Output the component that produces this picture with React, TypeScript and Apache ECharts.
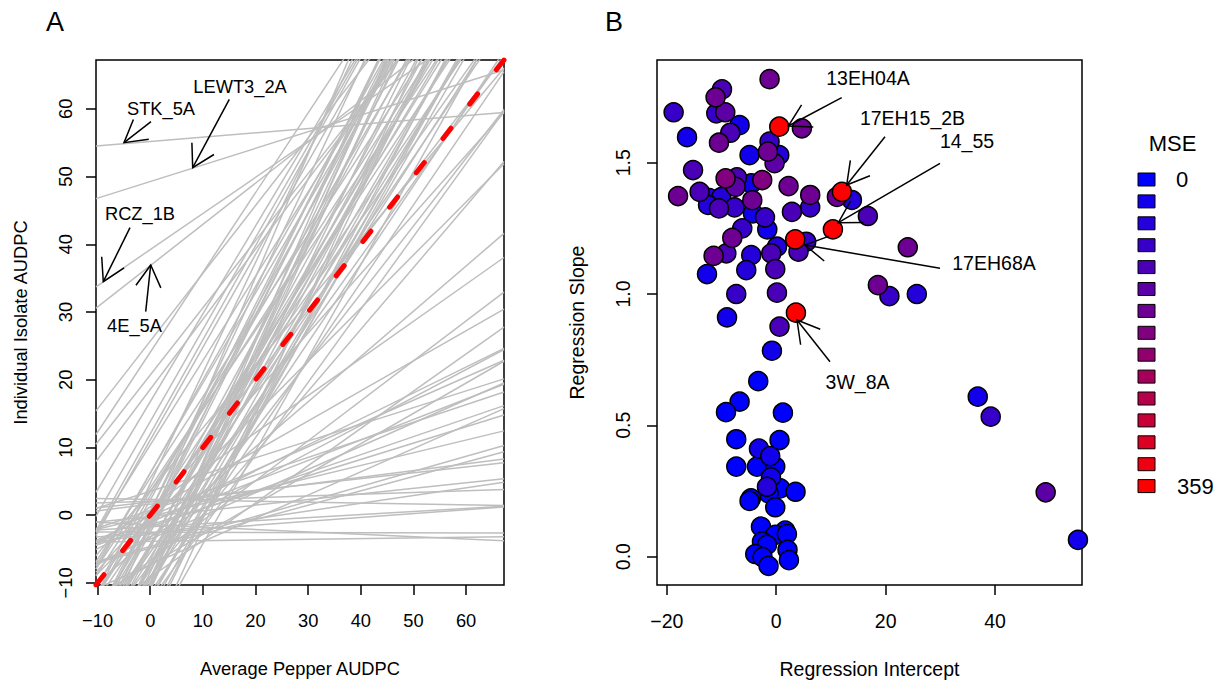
import React, { useEffect, useRef } from "react";
import * as echarts from "echarts";

// ---------- data ----------
// regression intercept (x of panel B) and slope (y of panel B) for each isolate
const intercepts = [
  -1.22, -9.92, -11.09, -18.76, -10.96, -9.32, -6.7, -16.31, -8.4, -10.47,
  0.55, 4.69, -1.22, -4.88, -1.52, 0.55, -0.31, -15.21, -9.26, -7.18,
  -7.43, -4.57, -2.56, -17.95, -14.01, -12.24, -10.05, -12.47, -10.47, -7.62,
  -4.38, -4.26, -2.06, -1.64, -6.21, -8.04, -11.45, -9.13, -4.57, -0.91,
  0.13, -12.66, -5.48, -0.18, -7.31, 0.13, -9.0, 0.6, 2.25, 6.21,
  6.21, 2.87, 12.0, 11.09, 13.83, 16.75, 10.36, 3.47, 4.07, 5.48,
  24.05, 18.58, 20.69, 25.7, 3.6, 36.84, 39.21, 49.26, 55.16, -0.79,
  -3.29, -6.7, -9.19, 1.22, -7.31, 0.6, -3.16, -1.1, -7.31, -3.53,
  -0.18, -0.97, -1.7, 0.73, 3.53, -1.41, -4.62, -0.18, -2.79, 1.64,
  -0.18, 1.95, -2.61, -1.7, -3.84, 2.06, -2.5, 2.32, -1.41, -4.88,
];
const slopes = [
  1.818, 1.779, 1.749, 1.692, 1.688, 1.692, 1.643, 1.597, 1.614, 1.576,
  1.637, 1.631, 1.58, 1.529, 1.542, 1.529, 1.498, 1.472, 1.44, 1.444,
  1.408, 1.421, 1.434, 1.373, 1.389, 1.365, 1.369, 1.339, 1.326, 1.33,
  1.357, 1.307, 1.292, 1.246, 1.25, 1.214, 1.145, 1.155, 1.148, 1.155,
  1.18, 1.076, 1.091, 1.095, 1.0, 1.005, 0.911, 0.876, 1.411, 1.377,
  1.33, 1.313, 1.389, 1.37, 1.358, 1.297, 1.246, 1.208, 1.161, 1.199,
  1.178, 1.034, 0.992, 1.0, 0.929, 0.609, 0.533, 0.245, 0.064, 0.784,
  0.668, 0.59, 0.55, 0.548, 0.447, 0.444, 0.411, 0.383, 0.343, 0.343,
  0.343, 0.302, 0.266, 0.26, 0.247, 0.241, 0.222, 0.188, 0.114, 0.099,
  0.083, 0.086, 0.057, 0.045, 0.01, 0.026, -0.002, -0.013, -0.035, 0.212,
];
const mseValues = [
  154, 106, 154, 82, 82, 130, 34, 34, 106, 154,
  359, 154, 82, 34, 154, 58, 130, 106, 178, 106,
  130, 34, 178, 154, 106, 58, 58, 58, 106, 82,
  154, 34, 82, 34, 82, 154, 154, 106, 58, 106,
  58, 34, 58, 106, 82, 106, 34, 106, 154, 154,
  82, 106, 352, 154, 58, 106, 348, 355, 106, 82,
  154, 154, 82, 58, 350, 34, 82, 130, 34, 34,
  10, 10, 10, 10, 10, 10, 34, 34, 10, 10,
  10, 34, 58, 10, 10, 10, 10, 10, 10, 10,
  10, 10, 10, 10, 10, 10, 10, 10, 10, 10,
];
const xTicksA = [-10, 0, 10, 20, 30, 40, 50, 60];
const yTicksA = [-10, 0, 10, 20, 30, 40, 50, 60];
const xTicksB = [-20, 0, 20, 40];
const yTicksB = [0, 0.5, 1.0, 1.5];
const rangeA = [-10.3, 67.2];
const rangeBx = [-21.8, 55.9];
const rangeBy = [-0.108, 1.891];
const mseRange = [0, 359];
const mseLegendLabels = ["0", "359"];
const labelsA = ["STK_5A", "LEWT3_2A", "RCZ_1B", "4E_5A"];
const labelsB = ["13EH04A", "17EH15_2B", "14_55", "17EH68A", "3W_8A"];

// ---------- styling helpers ----------
const FONT = "'Liberation Sans', Arial, Helvetica, sans-serif";
const FS_A = 18.3;
const FS_B = 19.5;
const N_COLORS = 15;
const palette = Array.from({ length: N_COLORS }, (_, k) => {
  const r = Math.round((255 * k) / (N_COLORS - 1));
  return `rgb(${r},0,${255 - r})`;
});
const binOf = (v: number) =>
  Math.min(
    N_COLORS - 1,
    Math.floor(((v - mseRange[0]) / (mseRange[1] - mseRange[0])) * N_COLORS)
  );
const fmtNum = (v: number) => (v < 0 ? "\u2212" + String(-v) : String(v));

function arrow(x0: number, y0: number, x1: number, y1: number) {
  const len = 25;
  const ang = (30 * Math.PI) / 180;
  const th = Math.atan2(y0 - y1, x0 - x1);
  const p1 = [x1 + len * Math.cos(th + ang), y1 + len * Math.sin(th + ang)];
  const p2 = [x1 + len * Math.cos(th - ang), y1 + len * Math.sin(th - ang)];
  return [
    {
      type: "line",
      silent: true,
      shape: { x1: x0, y1: y0, x2: x1, y2: y1 },
      style: { stroke: "#000", lineWidth: 1.5 },
      z: 100,
    },
    {
      type: "polyline",
      silent: true,
      shape: { points: [p1, [x1, y1], p2] },
      style: { stroke: "#000", fill: "none", lineWidth: 1.5 },
      z: 100,
    },
  ];
}

function label(text: string, x: number, y: number, size = 18, align = "center") {
  return {
    type: "text",
    x,
    y,
    silent: true,
    z: 100,
    style: {
      text,
      fill: "#000",
      font: `${size}px ${FONT}`,
      align,
      verticalAlign: "middle",
    },
  };
}

function axisBase(fs: number) {
  return {
    axisLine: { show: false, onZero: false },
    splitLine: { show: false },
    axisTick: { show: true, length: 10, lineStyle: { color: "#000", width: 1.5 } },
    axisLabel: { color: "#000", fontSize: fs, fontFamily: FONT },
    nameTextStyle: { color: "#000", fontSize: fs, fontFamily: FONT },
    nameLocation: "middle",
  };
}

export default function App() {
  const ref = useRef<HTMLDivElement>(null);

  useEffect(() => {
    document.body.style.margin = "0";
    if (!ref.current) return;
    const chart = echarts.init(ref.current, undefined, { renderer: "svg" });

    const baseA = axisBase(FS_A);
    const baseB = axisBase(FS_B);

    // Panel A: one line per isolate
    const lineSeries = intercepts.map((a, i) => ({
      type: "line",
      xAxisIndex: 0,
      yAxisIndex: 0,
      symbol: "none",
      silent: true,
      clip: true,
      lineStyle: { color: "#bebebe", width: 1.5 },
      data: [
        [rangeA[0], a + slopes[i] * rangeA[0]],
        [rangeA[1], a + slopes[i] * rangeA[1]],
      ],
      z: 2,
    }));

    const pts = intercepts
      .map((a, i) => [a, slopes[i], mseValues[i]])
      .sort((p, q) => p[2] - q[2]);

    // legend squares
    const legendTop = 179.5;
    const legendStep = 21.9;
    const legendEls: any[] = palette.map((c, k) => ({
      type: "rect",
      silent: true,
      shape: { x: 1138, y: legendTop + k * legendStep - 6.5, width: 17, height: 13 },
      style: { fill: c, stroke: "#000", lineWidth: 1 },
    }));
    legendEls.push(label("MSE", 1172.5, 143, 22));
    legendEls.push(label(mseLegendLabels[0], 1176, legendTop, 22, "left"));
    legendEls.push(
      label(mseLegendLabels[1], 1177, legendTop + (N_COLORS - 1) * legendStep, 22, "left")
    );

    const graphics: any[] = [
      label("A", 55, 22, 27),
      label("B", 614, 22, 27),
      label(labelsA[0], 161, 108, FS_A),
      ...arrow(151, 121.7, 124, 142.7),
      label(labelsA[1], 240, 86, FS_A),
      ...arrow(229.3, 99.3, 192.7, 167.7),
      label(labelsA[2], 140, 213.5, FS_A),
      ...arrow(130, 227.7, 103.3, 281.7),
      label(labelsA[3], 134.5, 325, FS_A),
      ...arrow(145.7, 311.7, 150.7, 265),
      label(labelsB[0], 868, 78, FS_B),
      ...arrow(841.7, 97.7, 788.3, 126),
      label(labelsB[1], 912.5, 117.5, FS_B),
      ...arrow(885, 136.7, 846.7, 185),
      label(labelsB[2], 967, 141, FS_B),
      ...arrow(940, 163.3, 838.3, 222.7),
      label(labelsB[3], 994, 263.3, FS_B),
      ...arrow(940, 268.3, 805, 245),
      label(labelsB[4], 857.5, 381.7, FS_B),
      ...arrow(830, 361.7, 797, 320),
      ...legendEls,
    ];

    chart.setOption({
      animation: false,
      backgroundColor: "#fff",
      grid: [
        { left: 96, top: 60, width: 408, height: 525, show: true, borderColor: "#000", borderWidth: 1.5, backgroundColor: "transparent" },
        { left: 657, top: 60, width: 425, height: 525, show: true, borderColor: "#000", borderWidth: 1.5, backgroundColor: "transparent" },
      ],
      xAxis: [
        {
          ...baseA,
          type: "value",
          gridIndex: 0,
          position: "bottom",
          min: rangeA[0],
          max: rangeA[1],
          name: "Average Pepper AUDPC",
          nameGap: 74,
          axisTick: { ...baseA.axisTick, customValues: xTicksA },
          axisLabel: { ...baseA.axisLabel, margin: 26, customValues: xTicksA, formatter: (v: number) => fmtNum(v) },
        },
        {
          ...baseB,
          type: "value",
          gridIndex: 1,
          position: "bottom",
          min: rangeBx[0],
          max: rangeBx[1],
          name: "Regression Intercept",
          nameGap: 74,
          axisTick: { ...baseB.axisTick, customValues: xTicksB },
          axisLabel: { ...baseB.axisLabel, margin: 26, customValues: xTicksB, formatter: (v: number) => fmtNum(v) },
        },
      ],
      yAxis: [
        {
          ...baseA,
          type: "value",
          gridIndex: 0,
          position: "left",
          min: rangeA[0],
          max: rangeA[1],
          name: "Individual Isolate AUDPC",
          nameGap: 67,
          axisTick: { ...baseA.axisTick, customValues: yTicksA },
          axisLabel: { ...baseA.axisLabel, margin: 22, rotate: 90, customValues: yTicksA, formatter: (v: number) => fmtNum(v) },
        },
        {
          ...baseB,
          type: "value",
          gridIndex: 1,
          position: "left",
          min: rangeBy[0],
          max: rangeBy[1],
          name: "Regression Slope",
          nameGap: 70,
          axisTick: { ...baseB.axisTick, customValues: yTicksB },
          axisLabel: { ...baseB.axisLabel, margin: 24, rotate: 90, customValues: yTicksB, formatter: (v: number) => v.toFixed(1) },
        },
      ],
      series: [
        ...lineSeries,
        {
          type: "line",
          xAxisIndex: 0,
          yAxisIndex: 0,
          symbol: "none",
          silent: true,
          clip: true,
          lineStyle: { color: "#ff0000", width: 5, type: [13, 30.5], cap: "round" },
          data: [
            [rangeA[0], rangeA[0]],
            [rangeA[1], rangeA[1]],
          ],
          z: 5,
        },
        {
          type: "scatter",
          xAxisIndex: 1,
          yAxisIndex: 1,
          symbol: "circle",
          symbolSize: 19,
          clip: false,
          silent: true,
          data: pts,
          itemStyle: {
            color: (p: any) => palette[binOf(p.data[2])],
            borderColor: "#000",
            borderWidth: 1.5,
            opacity: 1,
          },
          z: 5,
        },
      ],
      graphic: graphics,
    });

    return () => chart.dispose();
  }, []);

  return <div ref={ref} style={{ width: 1225, height: 685 }} />;
}
